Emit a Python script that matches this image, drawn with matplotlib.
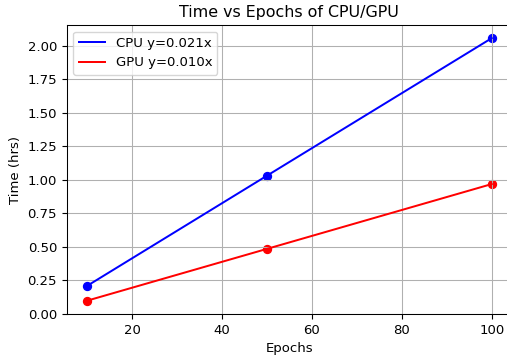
import matplotlib
matplotlib.use("Agg")
import matplotlib.pyplot as plt

epochs = [10, 50, 100]
cpu_hours = [0.209, 1.03, 2.055]
gpu_hours = [0.099, 0.485, 0.968]
cpu_label = "CPU y=0.021x"
gpu_label = "GPU y=0.010x"

s = 0.95
plt.rcParams.update({
    "font.size": 10 * s,
    "axes.titlesize": 12 * s,
    "axes.labelsize": 10 * s,
    "xtick.labelsize": 10 * s,
    "ytick.labelsize": 10 * s,
    "legend.fontsize": 10 * s,
    "lines.linewidth": 1.5 * s,
    "axes.linewidth": 0.8 * s,
    "grid.linewidth": 0.8 * s,
})

W, H = 507, 358
fig = plt.figure(figsize=(W / 100, H / 100), dpi=100)
ax = fig.add_axes([66.75 / W, 1 - 314 / H, (512 - 66.75) / W, (314 - 25) / H])

ax.plot(epochs, cpu_hours, color="blue", label=cpu_label)
ax.scatter(epochs, cpu_hours, color="blue", s=36 * s * s)
ax.plot(epochs, gpu_hours, color="red", label=gpu_label)
ax.scatter(epochs, gpu_hours, color="red", s=36 * s * s)
ax.set_ylim(bottom=0)
ax.set_xlabel("Epochs")
ax.set_ylabel("Time (hrs)")
ax.set_title("Time vs Epochs of CPU/GPU")
ax.grid(True)
ax.legend(loc="upper left")

fig.savefig("out.png", dpi=100)
